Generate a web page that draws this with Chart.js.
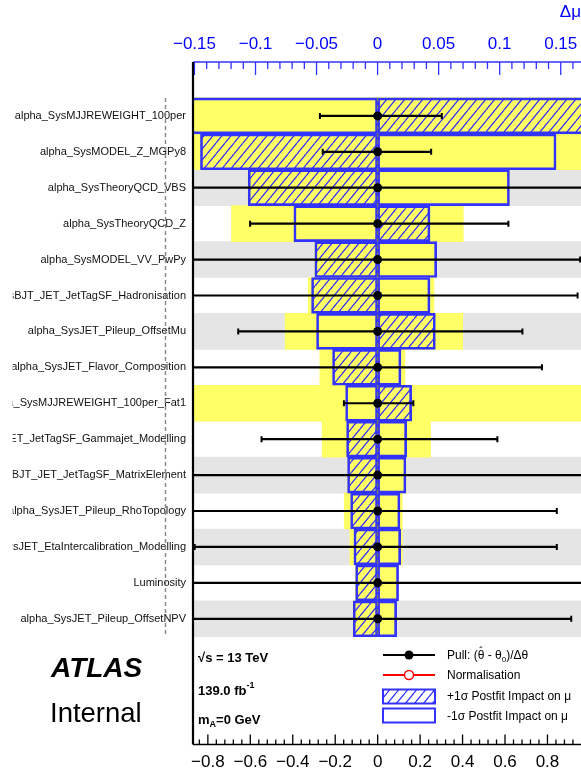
<!DOCTYPE html>
<html>
<head>
<meta charset="utf-8">
<title>Ranking plot</title>
<script src="https://cdn.jsdelivr.net/npm/chart.js@4.4.1/dist/chart.umd.min.js"></script>
<style>
  body { margin: 0; background: #fff; overflow: hidden; }
</style>
</head>
<body>
<canvas id="ranking-chart" width="581" height="778"></canvas>
<script>
// ===============================================================================
// 1. Data, rows listed from top to bottom
// ===============================================================================
var paramNames = [
  'alpha_SysMJJREWEIGHT_100per',
  'alpha_SysMODEL_Z_MGPy8',
  'alpha_SysTheoryQCD_VBS',
  'alpha_SysTheoryQCD_Z',
  'alpha_SysMODEL_VV_PwPy',
  'alpha_SysBJT_JET_JetTagSF_Hadronisation',
  'alpha_SysJET_Pileup_OffsetMu',
  'alpha_SysJET_Flavor_Composition',
  'alpha_SysMJJREWEIGHT_100per_Fat1',
  'alpha_SysBJT_JET_JetTagSF_Gammajet_Modelling',
  'alpha_SysBJT_JET_JetTagSF_MatrixElement',
  'alpha_SysJET_Pileup_RhoTopology',
  'alpha_SysJET_EtaIntercalibration_Modelling',
  'Luminosity',
  'alpha_SysJET_Pileup_OffsetNPV'
];
var rowPos = [15, 14, 13, 12, 11, 10, 9, 8, 7, 6, 5, 4, 3, 2, 1];
var shadedRows = [15, 13, 11, 9, 7, 5, 3, 1];

// prefit impact on mu (yellow)
var prefitLo = [-0.20, -0.17, -0.106, -0.1197, -0.0514, -0.0568, -0.0757, -0.0473, -0.20, -0.0454, -0.0246, -0.0273, -0.0227, -0.018, -0.020];
var prefitHi = [0.20, 0.18, 0.108, 0.0702, 0.0484, 0.0462, 0.0697, 0.0224, 0.20, 0.0434, 0.0232, 0.0202, 0.0202, 0.0172, 0.0156];
// postfit impact on mu, +1 sigma (hatched) and -1 sigma (open)
var postfitUp = [0.20, -0.1451, -0.106, 0.0429, -0.0514, -0.0541, 0.0473, -0.0369, 0.0279, -0.0254, -0.0246, -0.0221, -0.0194, -0.018, -0.020];
var postfitDown = [-0.16, 0.1462, 0.108, -0.0686, 0.0484, 0.0429, -0.050, 0.0191, -0.0262, 0.0238, 0.0232, 0.0183, 0.0189, 0.0172, 0.0156];

// pulls
var pullCentre = [0, 0, 0, 0, 0, 0, 0, 0, 0, 0, 0, 0, 0, 0, 0];
var pullErrLo = [-0.272, -0.259, -1.0, -0.601, -0.95, -0.94, -0.657, -0.92, -0.159, -0.547, -1.0, -0.90, -0.862, -1.0, -0.95];
var pullErrHi = [0.302, 0.252, 1.0, 0.616, 0.954, 0.942, 0.682, 0.774, 0.168, 0.564, 1.0, 0.844, 0.844, 1.0, 0.912];

// axes
var impactTicks = [-0.15, -0.1, -0.05, 0, 0.05, 0.1, 0.15];
var pullTicks = [-0.8, -0.6, -0.4, -0.2, 0, 0.2, 0.4, 0.6, 0.8];
var impactMin = -0.1512, impactMax = 0.1666;
var pullMin = -0.870, pullMax = 0.958;
var rowMin = -2.5, rowMax = 16.5;

var FONT = "'Liberation Sans', Arial, Helvetica, sans-serif";
var BLUE = '#3333ff';
var YELLOW = '#ffff66';
var GREY = '#e5e5e5';

// ===============================================================================
// 2. Helpers
// ===============================================================================
function makeHatch() {
  var w = 9, h = 11;
  var c = document.createElement('canvas');
  c.width = w; c.height = h;
  var g = c.getContext('2d');
  g.strokeStyle = '#2a2aff';
  g.lineWidth = 1.2;
  g.beginPath();
  for (var k = -1; k <= 1; k++) {
    g.moveTo(k * w, h);
    g.lineTo(k * w + w, 0);
  }
  g.stroke();
  return g.createPattern(c, 'repeat');
}
var hatch = makeHatch();

function fmtTick(v) {
  return String(v).replace('-', '\u2212');
}

function rowLabel(v) {
  var i = rowPos.indexOf(v);
  return i >= 0 ? paramNames[i] : '';
}

// fixed axis sizes, no extra label padding
function fixSize(size) {
  return function(s) {
    if (s.isHorizontal()) { s.height = size; } else { s.width = size; }
    s.paddingLeft = 0; s.paddingRight = 0; s.paddingTop = 0; s.paddingBottom = 0;
  };
}

// ===============================================================================
// 3. Build datasets from the arrays
// ===============================================================================
var bandData = [];
for (var i = 0; i < shadedRows.length; i++) {
  bandData.push({ y: shadedRows[i], x: [-1, 1] });
}
var prefitData = [], upData = [], downData = [], errData = [], dotData = [];
for (var i = 0; i < rowPos.length; i++) {
  prefitData.push({ y: rowPos[i], x: [prefitLo[i], prefitHi[i]] });
  upData.push({ y: rowPos[i], x: [0, postfitUp[i]] });
  downData.push({ y: rowPos[i], x: [0, postfitDown[i]] });
  errData.push({ y: rowPos[i], x: pullCentre[i] + pullErrLo[i] });
  errData.push({ y: rowPos[i], x: pullCentre[i] + pullErrHi[i] });
  errData.push({ y: rowPos[i], x: null });
  dotData.push({ y: rowPos[i], x: pullCentre[i] });
}
var zeroLine = [{ x: 0, y: rowPos[0] + 0.5 }, { x: 0, y: rowPos[rowPos.length - 1] - 0.5 }];

var barCommon = {
  type: 'bar', xAxisID: 'x2', yAxisID: 'y', grouped: false,
  categoryPercentage: 1, barPercentage: 1, borderSkipped: false
};

// ===============================================================================
// 4. Plugins: inward ticks, frame, dashed guide, legend and labels
// ===============================================================================
var framePlugin = {
  id: 'framePlugin',
  afterDatasetsDraw: function(chart) {
    var ctx = chart.ctx, a = chart.chartArea;
    var top = chart.scales.x2, bot = chart.scales.x;
    ctx.save();
    // top (impact) ticks, pointing down
    ctx.strokeStyle = BLUE; ctx.lineWidth = 1.3;
    ctx.beginPath();
    for (var k = Math.ceil(impactMin / 0.01 - 1e-6); k * 0.01 <= impactMax + 1e-9; k++) {
      var px = top.getPixelForValue(k * 0.01);
      var len = (k % 5 === 0) ? 13 : 7;
      ctx.moveTo(px, a.top); ctx.lineTo(px, a.top + len);
    }
    ctx.stroke();
    // bottom (pull) ticks, pointing up
    ctx.strokeStyle = '#000';
    ctx.beginPath();
    for (var k = Math.ceil(pullMin / 0.04 - 1e-6); k * 0.04 <= pullMax + 1e-9; k++) {
      var px = bot.getPixelForValue(k * 0.04);
      var len = (k % 5 === 0) ? 10 : 5;
      ctx.moveTo(px, a.bottom); ctx.lineTo(px, a.bottom - len);
    }
    ctx.stroke();
    // frame
    ctx.lineWidth = 1.6; ctx.strokeStyle = BLUE;
    ctx.beginPath(); ctx.moveTo(a.left, a.top); ctx.lineTo(a.right, a.top); ctx.stroke();
    ctx.strokeStyle = '#000';
    ctx.beginPath(); ctx.moveTo(a.left, a.bottom); ctx.lineTo(a.right, a.bottom); ctx.stroke();
    ctx.lineWidth = 2.2;
    ctx.beginPath(); ctx.moveTo(a.left, a.top); ctx.lineTo(a.left, a.bottom); ctx.stroke();
    ctx.restore();
  },
  afterDraw: function(chart) {
    var ctx = chart.ctx, a = chart.chartArea, ys = chart.scales.y;
    var yTop = ys.getPixelForValue(rowPos[0] + 0.5);
    var yBot = ys.getPixelForValue(rowPos[rowPos.length - 1] - 0.5);
    ctx.save();
    // labels are clipped at the pad edge
    ctx.fillStyle = '#fff';
    ctx.fillRect(0, yTop - 5, 12.7, yBot - yTop + 10);
    // dashed guide through the labels
    ctx.strokeStyle = '#8a8a8a'; ctx.lineWidth = 1.5; ctx.setLineDash([4, 3]);
    ctx.beginPath(); ctx.moveTo(a.left - 27.5, yTop); ctx.lineTo(a.left - 27.5, yBot); ctx.stroke();
    ctx.setLineDash([]);

    // ATLAS Internal
    ctx.fillStyle = '#000';
    ctx.textBaseline = 'alphabetic'; ctx.textAlign = 'left';
    ctx.font = 'italic bold 28px ' + FONT;
    ctx.fillText('ATLAS', 51, 677);
    ctx.font = '27.5px ' + FONT;
    ctx.fillText('Internal', 50, 722);

    // left info block
    var lx = a.left + 5;
    ctx.font = 'bold 13px ' + FONT;
    ctx.fillText('\u221As = 13 TeV', lx, 662);
    ctx.fillText('139.0 fb', lx, 695);
    var w = ctx.measureText('139.0 fb').width;
    ctx.font = 'bold 9px ' + FONT;
    ctx.fillText('-1', lx + w, 688);
    ctx.font = 'bold 13px ' + FONT;
    ctx.fillText('m', lx, 724);
    w = ctx.measureText('m').width;
    ctx.font = 'bold 9px ' + FONT;
    ctx.fillText('A', lx + w, 727);
    var w2 = ctx.measureText('A').width;
    ctx.font = 'bold 13px ' + FONT;
    ctx.fillText('=0 GeV', lx + w + w2, 724);

    // legend
    var gx0 = 383, gx1 = 435, tx = 447;
    ctx.lineWidth = 2;
    ctx.strokeStyle = '#000'; ctx.fillStyle = '#000';
    ctx.beginPath(); ctx.moveTo(gx0, 655); ctx.lineTo(gx1, 655); ctx.stroke();
    ctx.beginPath(); ctx.arc((gx0 + gx1) / 2, 655, 4.5, 0, Math.PI * 2); ctx.fill();
    ctx.strokeStyle = '#ff0000';
    ctx.beginPath(); ctx.moveTo(gx0, 675); ctx.lineTo(gx1, 675); ctx.stroke();
    ctx.fillStyle = '#fff'; ctx.lineWidth = 1.4;
    ctx.beginPath(); ctx.arc((gx0 + gx1) / 2, 675, 4.5, 0, Math.PI * 2); ctx.fill(); ctx.stroke();
    ctx.lineWidth = 2; ctx.strokeStyle = BLUE;
    ctx.fillStyle = hatch;
    ctx.fillRect(gx0, 689.5, gx1 - gx0, 14);
    ctx.strokeRect(gx0, 689.5, gx1 - gx0, 14);
    ctx.strokeRect(gx0, 708.5, gx1 - gx0, 14);

    ctx.fillStyle = '#000';
    ctx.font = '12px ' + FONT;
    var x = tx;
    ctx.fillText('Pull: (', x, 659); x += ctx.measureText('Pull: (').width;
    ctx.fillText('\u03B8', x, 659);
    var tw = ctx.measureText('\u03B8').width;
    ctx.font = '10px ' + FONT;
    ctx.textAlign = 'center';
    ctx.fillText('\u02C6', x + tw / 2, 655);
    ctx.textAlign = 'left';
    ctx.font = '12px ' + FONT;
    x += tw;
    ctx.fillText(' - \u03B8', x, 659); x += ctx.measureText(' - \u03B8').width;
    ctx.font = '8px ' + FONT;
    ctx.fillText('0', x, 662); x += ctx.measureText('0').width;
    ctx.font = '12px ' + FONT;
    ctx.fillText(')/\u0394\u03B8', x, 659);
    ctx.fillText('Normalisation', tx, 679);
    ctx.fillText('+1\u03C3 Postfit Impact on \u03BC', tx, 700);
    ctx.fillText('-1\u03C3 Postfit Impact on \u03BC', tx, 720);
    ctx.restore();
  }
};

// ===============================================================================
// 5. Chart
// ===============================================================================
var chartCanvas = document.getElementById('ranking-chart');
var newChart = new Chart(chartCanvas, {
  type: 'bar',
  data: {
    datasets: [
      { type: 'line', label: 'pull', xAxisID: 'x', yAxisID: 'y', data: dotData, order: 0,
        showLine: false, pointRadius: 4.5, pointBackgroundColor: '#000', pointBorderColor: '#000', pointBorderWidth: 0 },
      { type: 'line', label: 'pull error', xAxisID: 'x', yAxisID: 'y', data: errData, order: 1,
        borderColor: '#000', borderWidth: 2.2, spanGaps: false,
        pointStyle: 'line', rotation: 90, pointBorderColor: '#000', pointBorderWidth: 2,
        pointRadius: function(c) { return (c.raw && c.raw.x !== null) ? 3 : 0; } },
      { type: 'line', label: 'zero', xAxisID: 'x2', yAxisID: 'y', data: zeroLine, order: 2,
        borderColor: '#707070', borderWidth: 1.5, borderDash: [4, 3], pointRadius: 0 },
      Object.assign({}, barCommon, { label: '-1 sigma postfit', data: downData, order: 3,
        backgroundColor: 'rgba(0,0,0,0)', borderColor: BLUE, borderWidth: 2 }),
      Object.assign({}, barCommon, { label: '+1 sigma postfit', data: upData, order: 4,
        backgroundColor: hatch, borderColor: BLUE, borderWidth: 2 }),
      Object.assign({}, barCommon, { label: 'prefit', data: prefitData, order: 5,
        backgroundColor: YELLOW, borderWidth: 0 }),
      Object.assign({}, barCommon, { label: 'band', data: bandData, order: 6,
        backgroundColor: GREY, borderWidth: 0 })
    ]
  },
  options: {
    indexAxis: 'y',
    responsive: false,
    animation: false,
    events: [],
    devicePixelRatio: 1,
    layout: { padding: 0, autoPadding: false },
    plugins: { legend: { display: false }, tooltip: { enabled: false } },
    scales: {
      x: {
        type: 'linear', position: 'bottom', min: pullMin, max: pullMax, offset: false,
        afterBuildTicks: function(s) { s.ticks = pullTicks.map(function(v) { return { value: v }; }); },
        afterFit: fixSize(33.5),
        ticks: { autoSkip: false, maxRotation: 0, minRotation: 0, padding: 8, color: '#000',
          font: { family: FONT, size: 17 }, callback: fmtTick },
        grid: { display: false, drawTicks: false },
        border: { display: false }
      },
      x2: {
        type: 'linear', axis: 'x', position: 'top', min: impactMin, max: impactMax, offset: false,
        afterBuildTicks: function(s) { s.ticks = impactTicks.map(function(v) { return { value: v }; }); },
        afterFit: fixSize(62),
        ticks: { autoSkip: false, maxRotation: 0, minRotation: 0, padding: 7, color: '#0000ff',
          font: { family: FONT, size: 17 }, callback: fmtTick },
        title: { display: true, text: '\u0394\u03BC', align: 'end', color: '#0000ff',
          font: { family: FONT, size: 17 }, padding: { top: 2, bottom: 0 } },
        grid: { display: false, drawTicks: false },
        border: { display: false }
      },
      y: {
        type: 'linear', position: 'left', min: rowMin, max: rowMax, offset: false,
        afterBuildTicks: function(s) { s.ticks = rowPos.map(function(v) { return { value: v }; }); },
        afterFit: fixSize(193),
        ticks: { autoSkip: false, padding: 7, color: '#111', font: { family: FONT, size: 11 }, callback: rowLabel },
        grid: { display: false, drawTicks: false },
        border: { display: false }
      }
    }
  },
  plugins: [framePlugin]
});
</script>
</body>
</html>
